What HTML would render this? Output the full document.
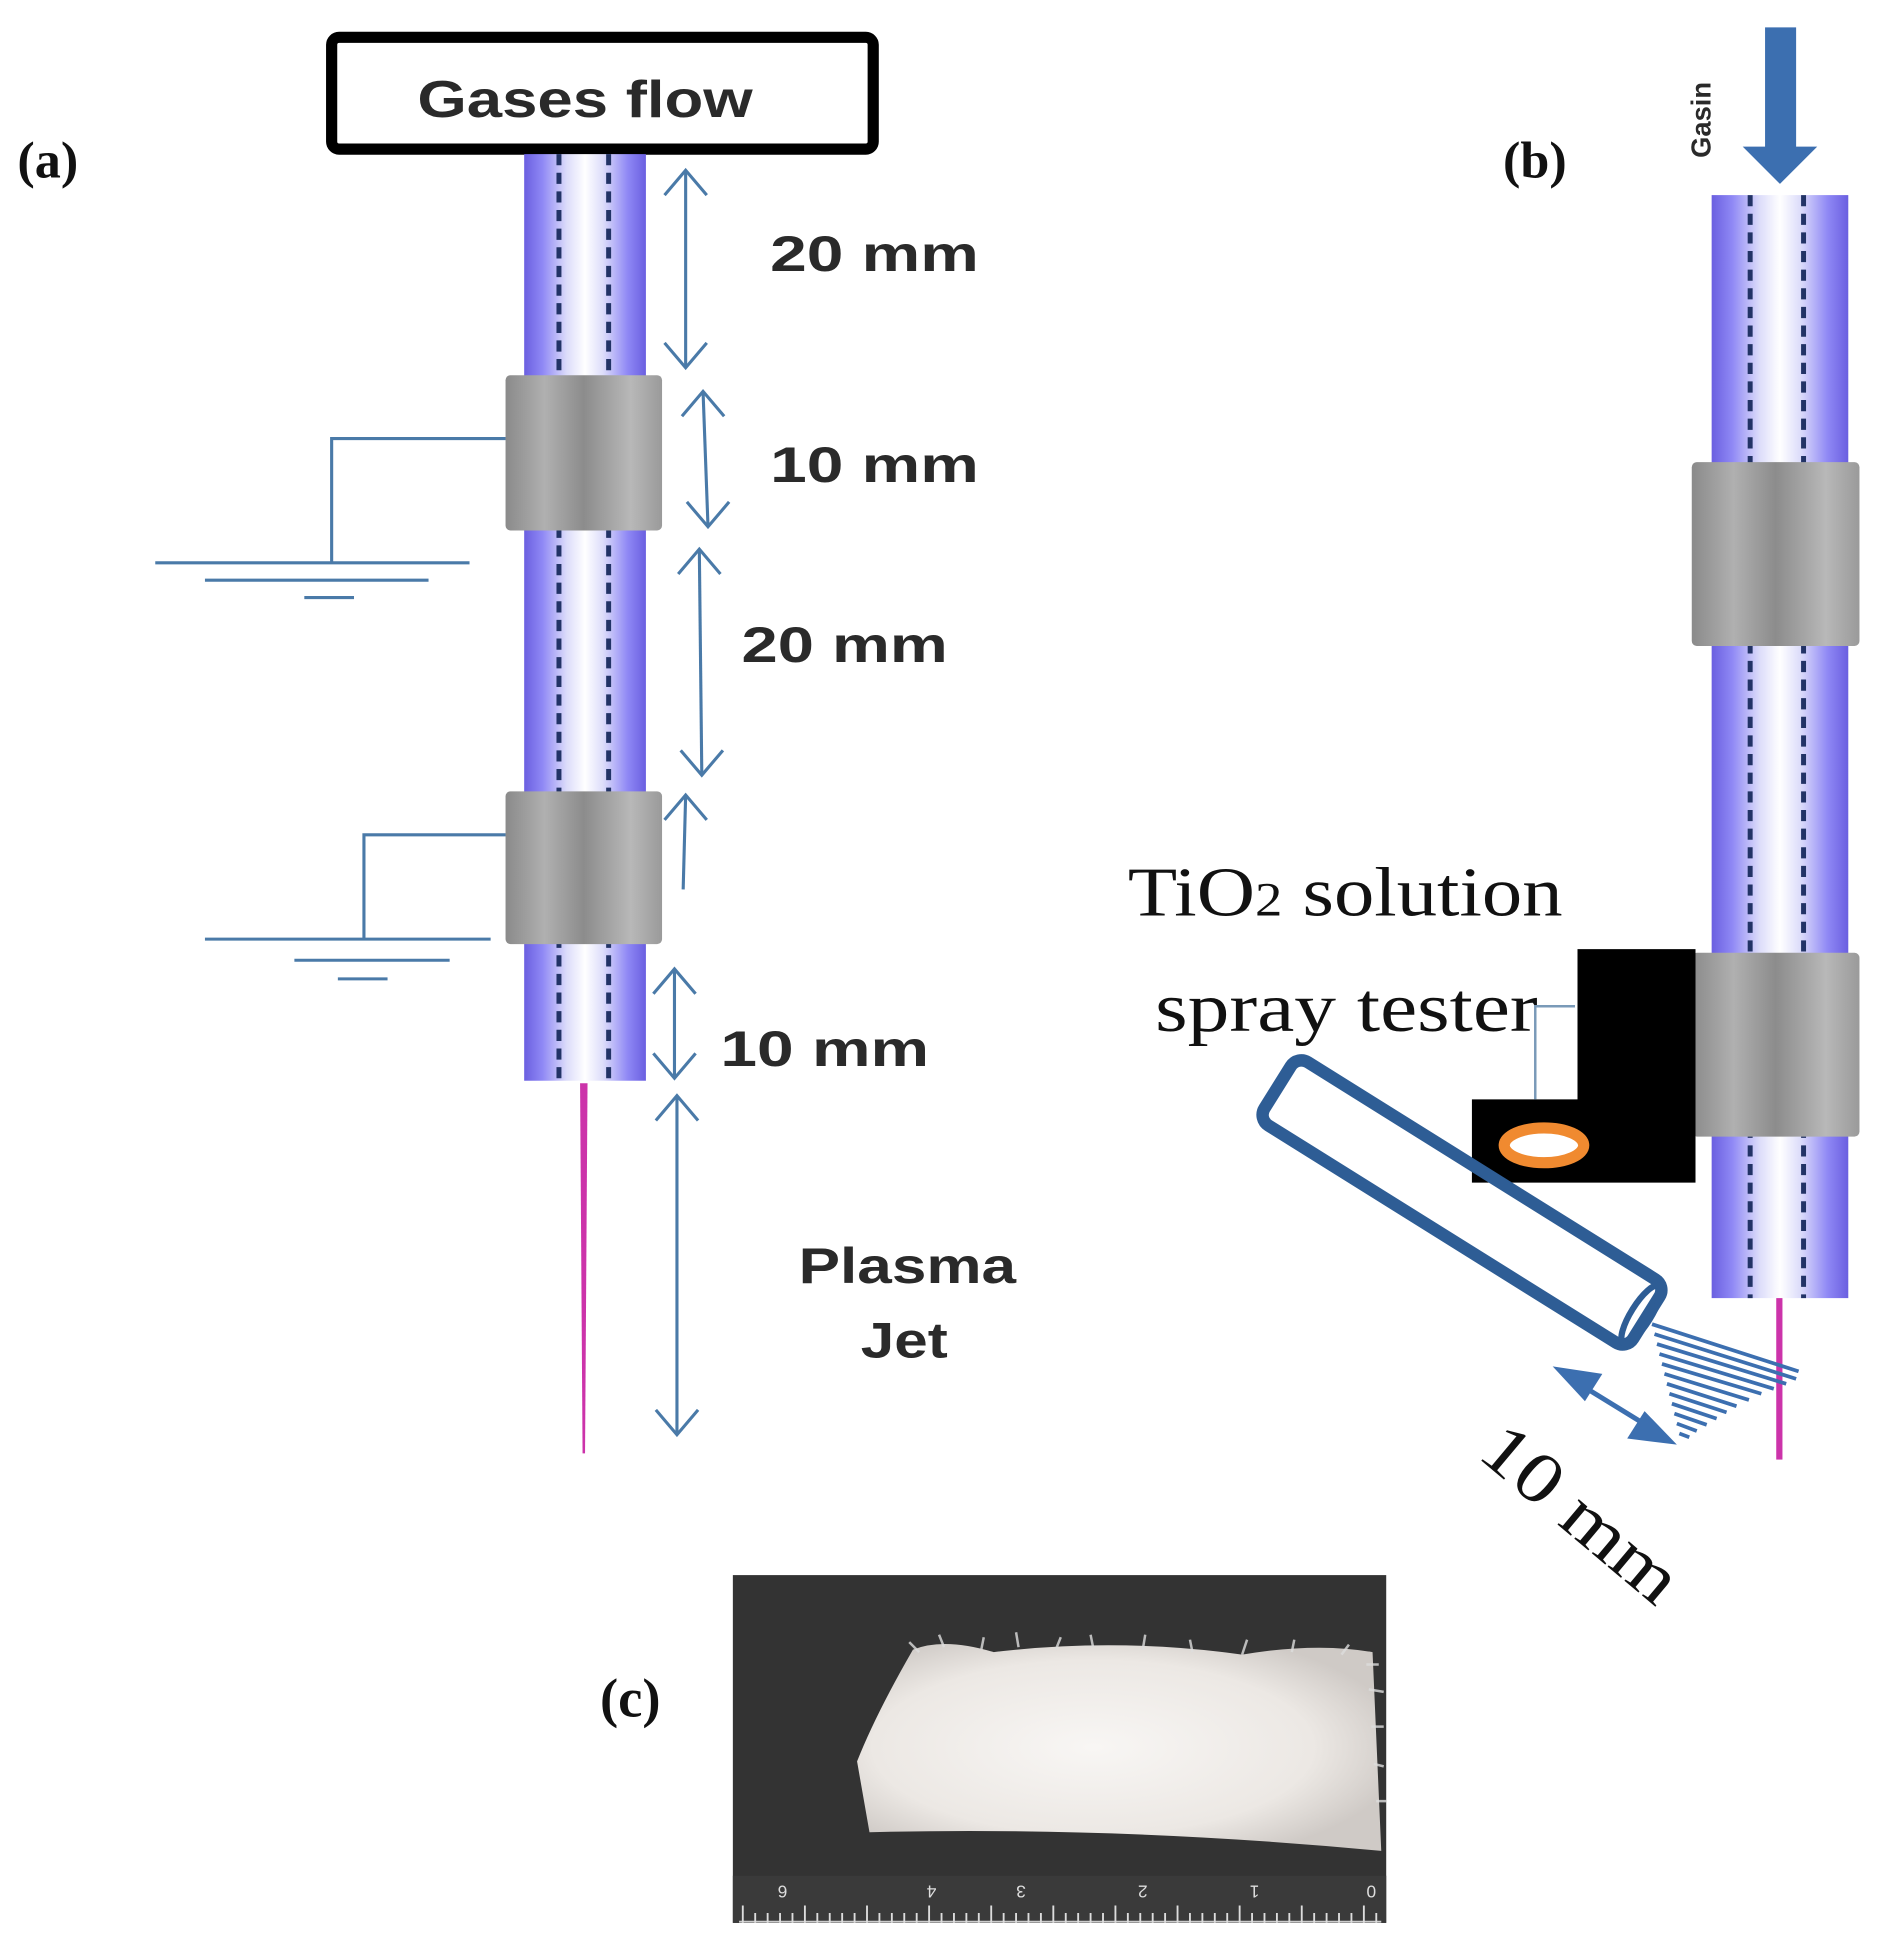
<!DOCTYPE html>
<html><head><meta charset="utf-8"><style>html,body{margin:0;padding:0;background:#fff}svg{display:block}</style></head>
<body>
<svg width="1893" height="1959" viewBox="0 0 1524 1577" xmlns="http://www.w3.org/2000/svg">
<defs>
<linearGradient id="tube" x1="0" x2="1" y1="0" y2="0">
<stop offset="0" stop-color="#6a5fe0"/><stop offset="0.15" stop-color="#8f88f5"/><stop offset="0.35" stop-color="#dcdcfa"/><stop offset="0.5" stop-color="#ffffff"/><stop offset="0.65" stop-color="#dcdcfa"/><stop offset="0.85" stop-color="#8f88f5"/><stop offset="1" stop-color="#6a5fe0"/>
</linearGradient>
<linearGradient id="gray" x1="0" x2="1" y1="0" y2="0">
<stop offset="0" stop-color="#8a8a8a"/><stop offset="0.25" stop-color="#b0b0b0"/><stop offset="0.5" stop-color="#8c8c8c"/><stop offset="0.8" stop-color="#b8b8b8"/><stop offset="1" stop-color="#9a9a9a"/>
</linearGradient>
<radialGradient id="fab" cx="0.45" cy="0.5" r="0.6">
<stop offset="0" stop-color="#f8f6f4"/><stop offset="0.7" stop-color="#ece8e4"/><stop offset="1" stop-color="#cfcac6"/>
</radialGradient>
</defs>
<style>
.dim{stroke:#4a7aa8;stroke-width:2.5;fill:none}
.s{font-family:"Liberation Sans",sans-serif;font-weight:bold;fill:#2a2a2a}
.r{font-family:"Liberation Serif",serif;fill:#111}
</style>

<!-- (a) -->
<text x="14" y="143" class="r" font-size="42" font-weight="bold">(a)</text>
<rect x="267" y="30" width="436" height="90" rx="6" fill="#fff" stroke="#000" stroke-width="9"/>
<text x="336" y="94" class="s" font-size="42" textLength="270" lengthAdjust="spacingAndGlyphs">Gases flow</text>
<rect x="422" y="124" width="98" height="746" fill="url(#tube)"/>
<line x1="450" y1="124" x2="450" y2="870" stroke="#223366" stroke-width="4" stroke-dasharray="9,6"/>
<line x1="490" y1="124" x2="490" y2="870" stroke="#223366" stroke-width="4" stroke-dasharray="9,6"/>
<rect x="407" y="302" width="126" height="125" rx="4" fill="url(#gray)"/>
<rect x="407" y="637" width="126" height="123" rx="4" fill="url(#gray)"/>
<g stroke="#4a7aa8" stroke-width="2.5" fill="none">
<polyline points="407,353 267,353 267,453"/>
<line x1="125" y1="453" x2="378" y2="453"/><line x1="165" y1="467" x2="345" y2="467"/><line x1="245" y1="481" x2="285" y2="481"/>
<polyline points="407,672 293,672 293,756"/>
<line x1="165" y1="756" x2="395" y2="756"/><line x1="237" y1="773" x2="362" y2="773"/><line x1="272" y1="788" x2="312" y2="788"/>
</g>
<path d="M467 872 L473 872 L471 1170 L469 1170 Z" fill="#cc33aa"/>
<g class="dim">
<line x1="552" y1="137" x2="552" y2="296"/><path d="M535 157 L552 137 L569 157 M535 276 L552 296 L569 276"/>
<line x1="566" y1="315" x2="570" y2="424"/><path d="M549 335 L566 315 L583 335 M553 404 L570 424 L587 404"/>
<line x1="563" y1="442" x2="565" y2="624"/><path d="M546 462 L563 442 L580 462 M548 604 L565 624 L582 604"/>
<line x1="552" y1="640" x2="550" y2="716"/><path d="M535 660 L552 640 L569 660"/>
<line x1="543" y1="780" x2="543" y2="868"/><path d="M526 800 L543 780 L560 800 M526 848 L543 868 L560 848"/>
<line x1="545" y1="882" x2="545" y2="1155"/><path d="M528 902 L545 882 L562 902 M528 1135 L545 1155 L562 1135"/>
</g>
<text x="620" y="218" class="s" font-size="40" textLength="168" lengthAdjust="spacingAndGlyphs">20 mm</text>
<text x="620" y="388" class="s" font-size="40" textLength="168" lengthAdjust="spacingAndGlyphs">10 mm</text>
<text x="597" y="533" class="s" font-size="40" textLength="166" lengthAdjust="spacingAndGlyphs">20 mm</text>
<text x="580" y="858" class="s" font-size="40" textLength="168" lengthAdjust="spacingAndGlyphs">10 mm</text>
<text x="643" y="1033" class="s" font-size="40" textLength="175" lengthAdjust="spacingAndGlyphs">Plasma</text>
<text x="693" y="1093" class="s" font-size="40" textLength="70" lengthAdjust="spacingAndGlyphs">Jet</text>

<!-- (b) -->
<text x="1210" y="143" class="r" font-size="42" font-weight="bold">(b)</text>
<text transform="translate(1377,127) rotate(-90)" class="s" font-size="22" font-weight="normal" fill="#666">Gasin</text>
<path d="M1421 22 L1446 22 L1446 118 L1463 118 L1433 148 L1403 118 L1421 118 Z" fill="#3c6fb0"/>
<rect x="1378" y="157" width="110" height="888" fill="url(#tube)"/>
<line x1="1409" y1="157" x2="1409" y2="1045" stroke="#223366" stroke-width="4" stroke-dasharray="9,6"/>
<line x1="1452" y1="157" x2="1452" y2="1045" stroke="#223366" stroke-width="4" stroke-dasharray="9,6"/>
<rect x="1362" y="372" width="135" height="148" rx="4" fill="url(#gray)"/>
<rect x="1362" y="767" width="135" height="148" rx="4" fill="url(#gray)"/>
<rect x="1430" y="1045" width="5" height="130" fill="#cc33aa"/>
<text x="908" y="737" class="r" font-size="56" textLength="350" lengthAdjust="spacingAndGlyphs">TiO<tspan font-size="38">2</tspan> solution</text>
<text x="930" y="830" class="r" font-size="56" textLength="308" lengthAdjust="spacingAndGlyphs">spray tester</text>
<path d="M1270 764 L1365 764 L1365 952 L1185 952 L1185 885 L1270 885 Z" fill="#000"/>
<polyline points="1268,810 1236,810 1236,885" fill="none" stroke="#7a9ab8" stroke-width="2"/>
<ellipse cx="1243" cy="922" rx="32" ry="14" fill="#fff" stroke="#f08a30" stroke-width="9"/>
<g transform="translate(1177,968) rotate(32)">
<rect x="-175" y="-30" width="350" height="60" rx="10" fill="none" stroke="#2e5d95" stroke-width="10"/>
<ellipse cx="170" cy="0" rx="8" ry="27" fill="none" stroke="#2e5d95" stroke-width="5"/>
</g>
<g stroke="#3c6fb0" stroke-width="3">
<line x1="1330" y1="1066" x2="1448" y2="1104"/>
<line x1="1332" y1="1074" x2="1446" y2="1110"/>
<line x1="1334" y1="1082" x2="1438" y2="1114"/>
<line x1="1336" y1="1090" x2="1428" y2="1118"/>
<line x1="1338" y1="1098" x2="1418" y2="1122"/>
<line x1="1340" y1="1106" x2="1408" y2="1127"/>
<line x1="1342" y1="1114" x2="1398" y2="1132"/>
<line x1="1344" y1="1122" x2="1390" y2="1137"/>
<line x1="1346" y1="1130" x2="1382" y2="1142"/>
<line x1="1348" y1="1138" x2="1374" y2="1147"/>
<line x1="1350" y1="1146" x2="1366" y2="1152"/>
<line x1="1352" y1="1154" x2="1360" y2="1157"/>
</g>
<line x1="1268" y1="1112" x2="1333" y2="1152" stroke="#3c6fb0" stroke-width="4"/>
<path d="M1250 1100 L1290 1106 L1276 1128 Z" fill="#3c6fb0"/>
<path d="M1350 1163 L1310 1158 L1324 1136 Z" fill="#3c6fb0"/>
<text transform="translate(1188,1172) rotate(40)" class="r" font-size="58" textLength="190" lengthAdjust="spacingAndGlyphs">10 mm</text>

<!-- (c) -->
<text x="483" y="1382" class="r" font-size="44" font-weight="bold">(c)</text>
<rect x="590" y="1268" width="526" height="280" fill="#333"/>
<path d="M735 1328 Q760 1318 800 1330 Q900 1318 1000 1332 Q1060 1322 1105 1330 L1112 1490 Q900 1470 700 1475 L690 1418 Q705 1380 735 1328 Z" fill="url(#fab)"/>
<g stroke="#ddd" stroke-width="2" opacity="0.8" fill="none">
<path d="M740 1330 l-8 -8 M760 1326 l-4 -10 M790 1328 l2 -10 M820 1326 l-2 -12 M850 1328 l4 -10 M880 1326 l-2 -10 M920 1328 l2 -12 M960 1330 l-2 -10 M1000 1332 l4 -12 M1040 1330 l2 -10 M1080 1332 l6 -8"/>
<path d="M1100 1340 l10 0 M1102 1360 l12 2 M1104 1390 l10 0 M1106 1420 l8 2 M1108 1450 l8 0"/>
</g>
<rect x="590" y="1510" width="526" height="38" fill="#3a3a3a"/>
<line x1="595" y1="1547" x2="1112" y2="1547" stroke="#ccc" stroke-width="1.5"/>
<path d="M598 1548 v-14 M608 1548 v-8 M618 1548 v-8 M628 1548 v-8 M638 1548 v-8 M648 1548 v-14 M658 1548 v-8 M668 1548 v-8 M678 1548 v-8 M688 1548 v-8 M698 1548 v-14 M708 1548 v-8 M718 1548 v-8 M728 1548 v-8 M738 1548 v-8 M748 1548 v-14 M758 1548 v-8 M768 1548 v-8 M778 1548 v-8 M788 1548 v-8 M798 1548 v-14 M808 1548 v-8 M818 1548 v-8 M828 1548 v-8 M838 1548 v-8 M848 1548 v-14 M858 1548 v-8 M868 1548 v-8 M878 1548 v-8 M888 1548 v-8 M898 1548 v-14 M908 1548 v-8 M918 1548 v-8 M928 1548 v-8 M938 1548 v-8 M948 1548 v-14 M958 1548 v-8 M968 1548 v-8 M978 1548 v-8 M988 1548 v-8 M998 1548 v-14 M1008 1548 v-8 M1018 1548 v-8 M1028 1548 v-8 M1038 1548 v-8 M1048 1548 v-14 M1058 1548 v-8 M1068 1548 v-8 M1078 1548 v-8 M1088 1548 v-8 M1098 1548 v-14 M1108 1548 v-8" stroke="#ddd" stroke-width="1.5"/>
<g font-family="Liberation Sans,sans-serif" font-size="14" fill="#ddd" text-anchor="middle">
<text transform="translate(630,1518) rotate(180)">6</text><text transform="translate(750,1518) rotate(180)">4</text><text transform="translate(822,1518) rotate(180)">3</text><text transform="translate(920,1518) rotate(180)">2</text><text transform="translate(1010,1518) rotate(180)">1</text><text transform="translate(1104,1518) rotate(180)">0</text>
</g>
</svg>
</body></html>
